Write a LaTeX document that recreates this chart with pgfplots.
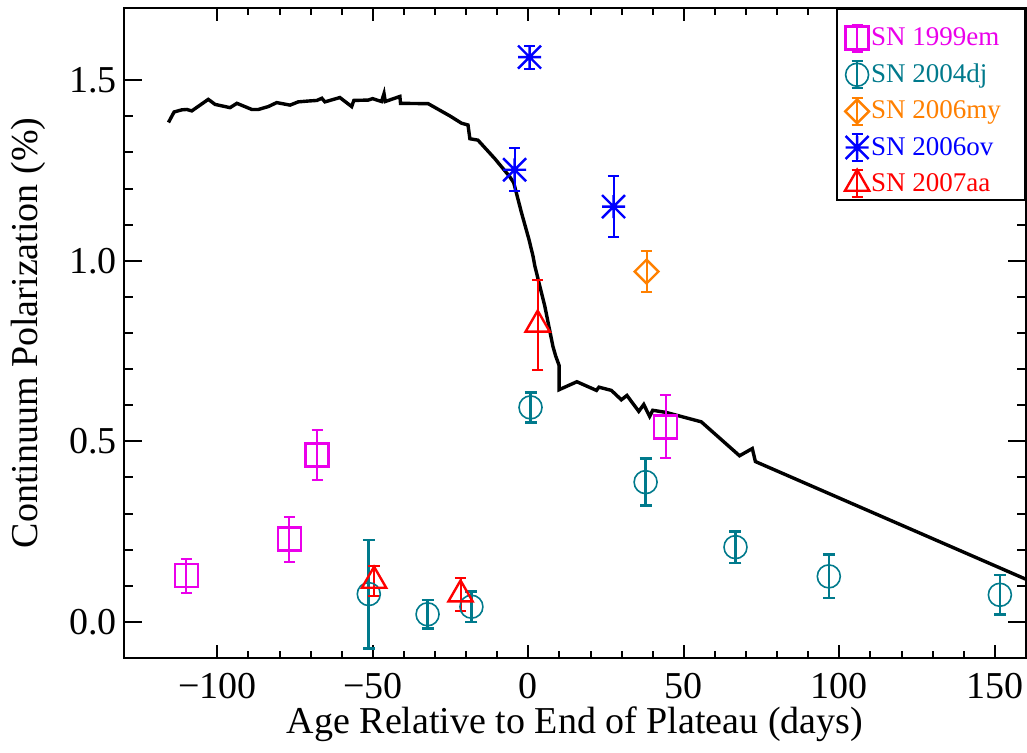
\documentclass[border=0pt]{standalone}
\usepackage{fontspec}
\setmainfont{Liberation Serif}
\usepackage{pgfplots}
\pgfplotsset{compat=1.18}

\definecolor{c99em}{RGB}{235,0,235}
\definecolor{c04dj}{RGB}{0,122,140}
\definecolor{c06my}{RGB}{255,128,0}
\definecolor{c06ov}{RGB}{0,0,255}
\definecolor{c07aa}{RGB}{255,0,0}

% eight-armed asterisk
\pgfdeclareplotmark{idlstar}{%
  \pgfpathmoveto{\pgfqpoint{-\pgfplotmarksize}{0pt}}%
  \pgfpathlineto{\pgfqpoint{\pgfplotmarksize}{0pt}}%
  \pgfpathmoveto{\pgfqpoint{0pt}{-\pgfplotmarksize}}%
  \pgfpathlineto{\pgfqpoint{0pt}{\pgfplotmarksize}}%
  \pgfpathmoveto{\pgfqpoint{-\pgfplotmarksize}{-\pgfplotmarksize}}%
  \pgfpathlineto{\pgfqpoint{\pgfplotmarksize}{\pgfplotmarksize}}%
  \pgfpathmoveto{\pgfqpoint{-\pgfplotmarksize}{\pgfplotmarksize}}%
  \pgfpathlineto{\pgfqpoint{\pgfplotmarksize}{-\pgfplotmarksize}}%
  \pgfusepathqstroke}

% legend entry text with a little room after it
\newcommand{\legtext}[2]{\textcolor{#1}{#2}\hspace*{6pt}}

\pgfplotsset{
  errleg/.style={legend image code/.code={
    \draw[##1, mark=none, solid, line width=1pt]
      (0pt,-6.75pt) -- (0pt,6.75pt)
      (-2.8pt,-6.75pt) -- (2.8pt,-6.75pt)
      (-2.8pt,6.75pt) -- (2.8pt,6.75pt);
    \draw[##1] plot coordinates {(0pt,0pt)};}},
  % first legend row gets extra room above it
  errlegtop/.style={legend image code/.code={
    \path (0pt,13pt);
    \draw[##1, mark=none, solid, line width=1pt]
      (0pt,-6.75pt) -- (0pt,6.75pt)
      (-2.8pt,-6.75pt) -- (2.8pt,-6.75pt)
      (-2.8pt,6.75pt) -- (2.8pt,6.75pt);
    \draw[##1] plot coordinates {(0pt,0pt)};}},
  pol/.style={only marks, errleg,
    /pgfplots/error bars/y dir=both,
    /pgfplots/error bars/y explicit,
    /pgfplots/error bars/error bar style={line width=1pt},
    /pgfplots/error bars/error mark options={rotate=90, mark size=2.8pt, line width=1pt}},
}

\begin{document}
\begin{tikzpicture}
\begin{axis}[
  name=ax, scale only axis, width=451pt, height=325pt,
  xmin=-130, xmax=160, ymin=-0.1, ymax=1.7,
  xtick={-100,-50,0,50,100,150},
  xticklabels={−100,−50,0,50,100,150},
  minor x tick num=4,
  ytick={0,0.5,1,1.5}, yticklabels={0.0,0.5,1.0,1.5},
  minor y tick num=4,
  tick align=inside,
  xtick style={/pgfplots/major tick length=6.5pt,/pgfplots/minor tick length=3.3pt},
  ytick style={/pgfplots/major tick length=9pt,/pgfplots/minor tick length=4.5pt},
  every tick/.append style={black, line width=1pt},
  axis line style={line width=1.1pt},
  tick label style={font=\fontsize{19}{20}\selectfont},
  xticklabel style={yshift=-4pt},
  label style={font=\fontsize{19}{22}\selectfont},
  xlabel={Age Relative to End of Plateau (days)},
  xlabel style={yshift=3pt},
  ylabel={Continuum Polarization (\%)},
  ylabel style={yshift=5pt},
  legend cell align=left,
  legend style={at={(1,1)}, anchor=north east, draw=black, line width=1pt,
    fill=white, font=\fontsize{13.5}{16}\selectfont,
    inner xsep=4pt, inner ysep=1pt, row sep=3.6pt,
    /tikz/every odd column/.append style={column sep=-1pt}},
]

% continuum polarization curve
\addplot[black, line width=1.7pt, mark=none, forget plot] coordinates {
(-115.7,1.383) (-113.9,1.412) (-111.4,1.418) (-109.8,1.419) (-108.2,1.415)
(-102.9,1.447) (-100.7,1.433) (-95.9,1.424) (-93.7,1.436) (-88.9,1.419)
(-86.8,1.419) (-83.6,1.427) (-80.9,1.438) (-76.6,1.431) (-74.0,1.440)
(-71.3,1.442) (-68.0,1.444) (-66.4,1.450) (-65.4,1.440) (-60.6,1.452)
(-56.8,1.427) (-56.1,1.444) (-51.5,1.445) (-50.1,1.449) (-47.2,1.441)
(-46.4,1.463) (-46.0,1.441) (-41.3,1.455) (-41.1,1.436) (-32.2,1.435)
(-25.2,1.401) (-21.5,1.381) (-19.4,1.376) (-18.8,1.338) (-16.2,1.334)
(-10.8,1.283) (-6.0,1.233) (-4.7,1.216) (-2.2,1.133) (0.2,1.059)
(1.5,1.013) (2.1,0.985) (5.3,0.874) (7.9,0.763) (8.8,0.736) (9.9,0.710)
(9.9,0.643) (15.6,0.665) (21.9,0.641) (22.7,0.650) (26.7,0.641)
(29.9,0.615) (31.7,0.627) (35.5,0.583) (37.1,0.602) (39.0,0.569)
(40.0,0.586) (44.3,0.580) (55.6,0.554) (67.9,0.460) (72.0,0.480)
(73.0,0.444) (160.0,0.118)
};

\addplot[pol, errlegtop, color=c99em, mark=square, mark size=5.75pt, line width=1.2pt]
coordinates {
(-110.0,0.128) +- (0,0.047)
(-76.8,0.229) +- (0,0.062)
(-67.9,0.462) +- (0,0.070)
(44.1,0.540) +- (0,0.087)
};
\addlegendentry{\legtext{c99em}{SN 1999em}}

\addplot[pol, color=c04dj, mark=o, mark size=5.75pt, line width=0.8pt,
  /pgfplots/error bars/error bar style={line width=1.3pt},
  /pgfplots/error bars/error mark options={rotate=90, mark size=3pt, line width=1.3pt}]
coordinates {
(-51.3,0.077) +- (0,0.150)
(-32.4,0.021) +- (0,0.040)
(-18.3,0.042) +- (0,0.042)
(0.7,0.594) +- (0,0.042)
(37.7,0.387) +- (0,0.065)
(66.6,0.207) +- (0,0.044)
(96.6,0.126) +- (0,0.060)
(151.6,0.075) +- (0,0.055)
};
\addlegendentry{\legtext{c04dj}{SN 2004dj}}

\addplot[pol, color=c06my, mark=square, mark options={rotate=45}, mark size=4.2pt, line width=1.2pt]
coordinates {
(38.0,0.970) +- (0,0.056)
};
\addlegendentry{\legtext{c06my}{SN 2006my}}

\addplot[pol, color=c06ov, mark=idlstar, mark size=5.75pt, line width=1.2pt]
coordinates {
(0.4,1.564) +- (0,0.032)
(-4.4,1.252) +- (0,0.059)
(27.4,1.150) +- (0,0.084)
};
\addlegendentry{\legtext{c06ov}{SN 2006ov}}

\addplot[pol, color=c07aa, mark=triangle, mark size=7pt, line width=1.2pt]
coordinates {
(3.0,0.823) +- (0,0.125)
(-49.6,0.114) +- (0,0.042)
(-21.8,0.076) +- (0,0.045)
};
\addlegendentry{\legtext{c07aa}{SN 2007aa}}

\end{axis}
\pgfresetboundingbox
\path[use as bounding box] ([xshift=-62pt,yshift=-47.5pt]ax.south west)
  rectangle ([xshift=0.5pt,yshift=4pt]ax.north east);
\end{tikzpicture}
\end{document}
